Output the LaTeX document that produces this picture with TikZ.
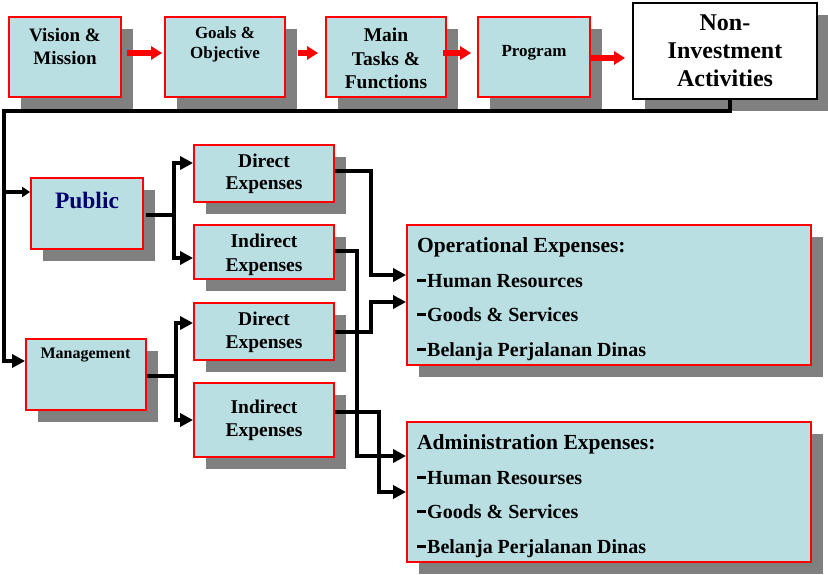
\documentclass[tikz,border=0pt]{standalone}
\usepackage{fontspec}
\setmainfont{Liberation Serif}
\usetikzlibrary{arrows.meta,shadows}
\definecolor{boxfill}{RGB}{185,223,227}
\definecolor{shadowgray}{RGB}{128,128,128}
\definecolor{pubblue}{RGB}{0,0,110}
\newcommand\itemdash{\rule[5pt]{9pt}{3pt}\hspace{1pt}}
\tikzset{
  shad/.style={drop shadow={shadow xshift=12pt,shadow yshift=-12pt,fill=shadowgray,opacity=1}},
  box/.style={draw=red,line width=1.8pt,fill=boxfill,inner sep=0pt,shad},
  nibox/.style={draw=black,line width=1.8pt,fill=white,inner sep=0pt,shad},
  txt/.style={font=\bfseries,align=center,inner sep=0pt},
  listtxt/.style={font=\bfseries\fontsize{20}{24}\selectfont,anchor=base west,inner sep=0pt},
  titletxt/.style={font=\bfseries\fontsize{21.5}{24}\selectfont,anchor=base west,inner sep=0pt},
  redarrow/.style={red,line width=6.5pt,-{Triangle[length=11pt,width=13pt]}},
  conn/.style={line width=4pt,-{Triangle[length=13pt,width=13pt]}},
  connsmall/.style={line width=4pt,-{Triangle[length=8pt,width=10pt]}},
}
\begin{document}
\begin{tikzpicture}[x=1pt,y=-1pt]
\useasboundingbox (0,0) rectangle (828,575);
% top row
\node[box,minimum width=112pt,minimum height=80pt] (vm) at (65,57) {};
\node[txt,font=\bfseries\fontsize{19}{23}\selectfont] (vmt) at (65,46.5) {Vision \&\\Mission};
\node[box,minimum width=120pt,minimum height=80pt] (go) at (225,57) {};
\node[txt,font=\bfseries\fontsize{17}{20}\selectfont] (got) at (225,44) {Goals \&\\Objective};
\node[box,minimum width=120pt,minimum height=80pt] (mt) at (386,57) {};
\node[txt,font=\bfseries\fontsize{19.5}{23.5}\selectfont] (mtt) at (386,58.5) {Main\\Tasks \&\\Functions};
\node[box,minimum width=112pt,minimum height=80pt] (pr) at (534,57) {};
\node[txt,font=\bfseries\fontsize{17}{20}\selectfont] (prt) at (534,53) {Program};
\node[nibox,minimum width=184pt,minimum height=96pt] (ni) at (725,51) {};
\node[txt,font=\bfseries\fontsize{24}{28}\selectfont] (nit) at (725,51) {Non-\\Investment\\Activities};
% left column
\node[box,minimum width=112pt,minimum height=71pt] (pub) at (87,213.5) {};
\node[txt,font=\bfseries\fontsize{23.5}{28}\selectfont,text=pubblue] (pubt) at (87,200) {Public};
\node[box,minimum width=120pt,minimum height=71pt] (man) at (86,374.5) {};
\node[txt,font=\bfseries\fontsize{16}{20}\selectfont] (mant) at (85.5,355) {Management};
% middle column
\node[box,minimum width=140pt,minimum height=57pt] (d1) at (264,173.5) {};
\node[txt,font=\bfseries\fontsize{19.5}{22.5}\selectfont] (d1t) at (264,174) {Direct\\Expenses};
\node[box,minimum width=140pt,minimum height=54pt] (i1) at (264,252) {};
\node[txt,font=\bfseries\fontsize{19.5}{24}\selectfont] (i1t) at (264,255) {Indirect\\Expenses};
\node[box,minimum width=140pt,minimum height=57pt] (d2) at (264,331.5) {};
\node[txt,font=\bfseries\fontsize{19.5}{22.5}\selectfont] (d2t) at (264,332.5) {Direct\\Expenses};
\node[box,minimum width=140pt,minimum height=74pt] (i2) at (264,420) {};
\node[txt,font=\bfseries\fontsize{19.5}{23}\selectfont] (i2t) at (264,420.5) {Indirect\\Expenses};
% right boxes
\node[box,minimum width=404pt,minimum height=140pt] (op) at (609,295) {};
\node[titletxt] (opt1) at (417,252.5) {Operational Expenses:};
\node[listtxt] (opt2) at (417,287) {\itemdash Human Resources};
\node[listtxt] (opt3) at (417,321) {\itemdash Goods \& Services};
\node[listtxt] (opt4) at (417,356) {\itemdash Belanja Perjalanan Dinas};
\node[box,minimum width=404pt,minimum height=140pt] (ad) at (609,492) {};
\node[titletxt] (adt1) at (417,449.5) {Administration Expenses:};
\node[listtxt] (adt2) at (417,484) {\itemdash Human Resourses};
\node[listtxt] (adt3) at (417,518) {\itemdash Goods \& Services};
\node[listtxt] (adt4) at (417,553) {\itemdash Belanja Perjalanan Dinas};
% red arrows
\draw[redarrow] ([shift={(5,-4)}]vm.east) -- ([shift={(-2,-4)}]go.west);
\draw[redarrow] ([shift={(12,-4)}]go.east) -- ([shift={(-7,-4)}]mt.west);
\draw[redarrow] ([shift={(-4,-4)}]mt.east) -- ([shift={(-6,-4)}]pr.west);
\draw[redarrow] ([shift={(-1,1)}]pr.east) -- ([shift={(-7,7)}]ni.west);
% main bus
\coordinate (bus) at (4,111);
\coordinate (manin) at ([shift={(0,-13.5)}]man.west);
\coordinate (pubin) at ([shift={(0,-21.5)}]pub.west);
\draw[conn,line join=miter] ([xshift=5pt]ni.south) |- (bus) |- (manin);
\draw[connsmall] (pubin -| bus) -- (pubin);
% public branches
\coordinate (pubout) at ([shift={(2,1.5)}]pub.east);
\draw[conn] (pubout) -- ++(28,0) |- ([shift={(0,-10.5)}]d1.west);
\draw[conn] (pubout) -- ++(28,0) |- ([shift={(0,6)}]i1.west);
% management branches
\coordinate (manout) at ([shift={(0,1.5)}]man.east);
\draw[conn] (manout) -- ++(29,0) |- ([shift={(0,-8.5)}]d2.west);
\draw[conn] (manout) -- ++(29,0) |- (i2.west);
% to right boxes
\draw[conn] ([shift={(0,-2.5)}]d1.east) -- ++(36,0) |- ([shift={(0,-20)}]op.west);
\draw[conn] ([shift={(0,0.5)}]d2.east) -- ++(36,0) |- ([shift={(0,7)}]op.west);
\draw[conn] ([shift={(0,-1)}]i1.east) -- ++(22,0) |- ([shift={(0,-36)}]ad.west);
\draw[conn] ([shift={(0,-8)}]i2.east) -- ++(44,0) |- (ad.west);
\end{tikzpicture}
\end{document}
